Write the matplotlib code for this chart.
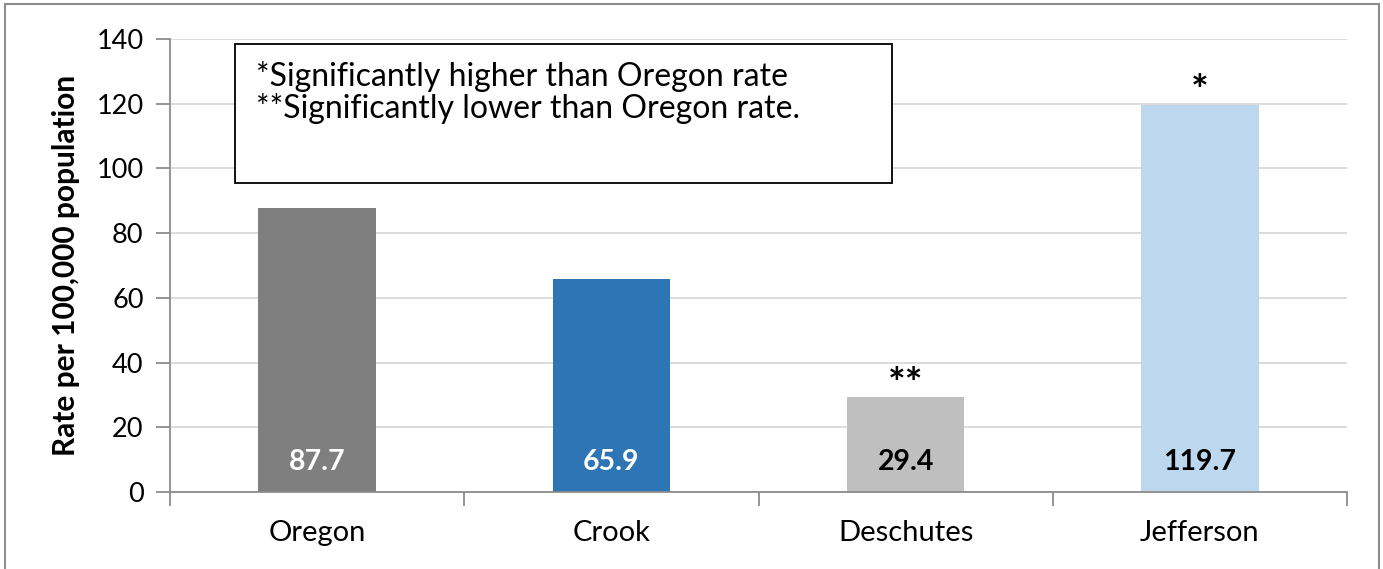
import matplotlib
matplotlib.use("Agg")
import matplotlib.pyplot as plt
from matplotlib.patches import Rectangle

categories = ["Oregon", "Crook", "Deschutes", "Jefferson"]
rates = [87.7, 65.9, 29.4, 119.7]
bar_colors = ["#7f7f7f", "#2e75b6", "#bfbfbf", "#bdd7ee"]
label_colors = ["white", "white", "black", "black"]
significance = ["", "", "**", "*"]
yticks = [0, 20, 40, 60, 80, 100, 120, 140]
note_lines = ["*Significantly higher than Oregon rate",
              "**Significantly lower than Oregon rate."]

plt.rcParams['font.family'] = ['Lato', 'DejaVu Sans']

fig = plt.figure(figsize=(13.83, 5.69), dpi=100)
ax = fig.add_axes([170/1383, 1 - 492/569, (1347-170)/1383, (492-39)/569])

x = list(range(len(categories)))
ax.bar(x, rates, width=0.4, color=bar_colors, zorder=3)
ax.set_xlim(-0.5, len(categories) - 0.5)
ax.set_ylim(0, 140)
ax.set_yticks(yticks)
ax.set_yticklabels([str(t) for t in yticks], fontsize=19.5)
ax.set_xticks(x)
ax.set_xticklabels(categories, fontsize=21)
ax.tick_params(axis='x', length=0, pad=20)
ax.tick_params(axis='y', length=10, width=1.3, color="#8c8c8c", pad=9)
# category boundary ticks
ax.set_xticks([i - 0.5 for i in range(len(categories) + 1)], minor=True)
ax.tick_params(axis='x', which='minor', length=10, width=1.3, color="#8c8c8c")

ax.grid(axis='y', color="#d9d9d9", linewidth=1.3, zorder=0)
for s in ["top", "right"]:
    ax.spines[s].set_visible(False)
for s in ["left", "bottom"]:
    ax.spines[s].set_color("#8c8c8c")
    ax.spines[s].set_linewidth(1.3)
    ax.spines[s].set_zorder(4)

for xi, v, lc, sig in zip(x, rates, label_colors, significance):
    ax.text(xi, 9.3, f"{v}", ha="center", va="center", fontsize=20.5,
            fontweight="bold", color=lc, zorder=5)
    if sig:
        ax.text(xi, v + 3.5, sig, ha="center", va="center", fontsize=30,
                fontweight="bold", color="black", zorder=5)

ax.set_ylabel("Rate per 100,000 population", fontsize=21.5, fontweight="bold",
              labelpad=12)

# note box
box = Rectangle((235/1383, 1 - 183/569), (892-235)/1383, (183-44)/569,
                transform=fig.transFigure, facecolor="white",
                edgecolor="black", linewidth=1.3, zorder=10)
fig.add_artist(box)
fig.text(256/1383, 1 - 76/569, note_lines[0], fontsize=23, va="center",
         ha="left", zorder=11)
fig.text(256/1383, 1 - 108/569, note_lines[1], fontsize=23, va="center",
         ha="left", zorder=11)

# outer border
border = Rectangle((5/1383, -0.01), (1379-5)/1383, 1 - 4/569 + 0.01,
                   transform=fig.transFigure, facecolor="none",
                   edgecolor="#8c8c8c", linewidth=1.5)
fig.add_artist(border)

fig.savefig("out.png", dpi=100)
